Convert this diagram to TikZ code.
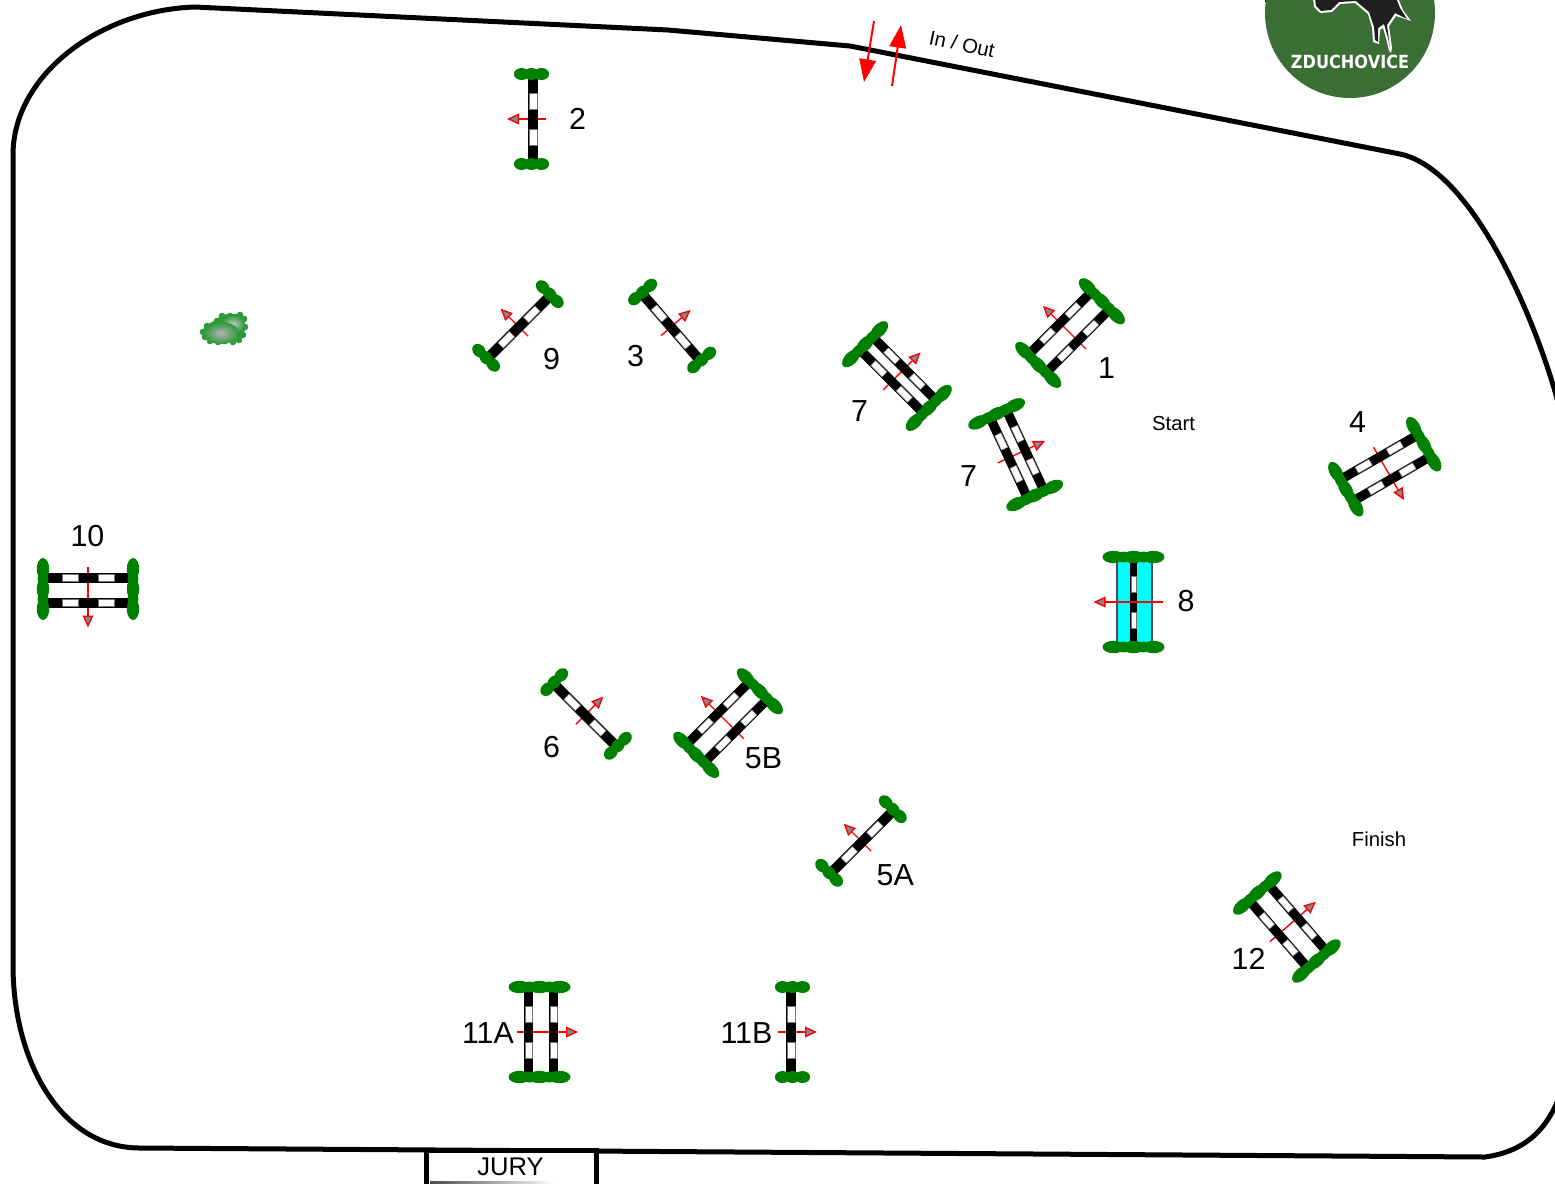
\documentclass[tikz,border=0pt]{standalone}
\usepackage{fontspec}
\usetikzlibrary{arrows.meta,shapes.geometric}
\setmainfont{Liberation Sans}
\newfontfamily\logofont{DejaVu Sans}[FakeStretch=0.89]
\definecolor{bushgreen}{HTML}{008000}
\definecolor{logogreen}{HTML}{3A6E35}
\definecolor{headgrey}{HTML}{808A96}
\definecolor{treegreen}{HTML}{2C9A38}
\definecolor{watercyan}{HTML}{00FFFF}
\tikzset{
  bush/.style={fill=bushgreen,draw=none},
  jumparrow/.style={draw=red,line width=1.05pt,-{Triangle[length=9pt,width=8pt,fill=headgrey]}},
  bigarrow/.style={draw=red,line width=1.5pt,-{Triangle[length=17pt,width=12.5pt,fill=red]}},
  numlabel/.style={font=\fontsize{22.8}{25}\selectfont,inner sep=0pt},
  smalllabel/.style={font=\fontsize{15.2}{18}\selectfont,inner sep=0pt},
  whiteseg/.style={fill=white,draw=black!55,line width=.4pt},
  course/.style={line width=3.75pt,line join=round}
}
% rail along the local y axis at x offset #1, half width #2
\newcommand\railat[2]{%
  \fill[black] ({#1-#2},-45) rectangle ({#1+#2},45);
  \filldraw[whiteseg] ({#1-#2+1.2},-26) rectangle ({#1+#2-1.2},-10);
  \filldraw[whiteseg] ({#1-#2+1.2},10) rectangle ({#1+#2-1.2},26);
}
\newcommand\shortbush[1]{%
  \foreach \u in {-10,0,10} \fill[bush] ({-1.5+\u},#1) ellipse (7.6 and 6);
}
% #1 local y, #2 local x offset
\newcommand\longbush[2]{%
  \foreach \u in {-20,0,20} \fill[bush] ({#2+\u},#1) ellipse (11 and 6.2);
  \foreach \u in {-10,10} \fill[bush] ({#2+\u},#1) ellipse (9 and 5.4);
}
% #1 name, #2 cx, #3 cy, #4 clockwise turn
\newcommand\singlefence[4]{%
  \begin{scope}[shift={(#2,#3)},rotate={-(#4)}]
    \coordinate (#1tail) at (13,0);
    \coordinate (#1tip) at (-26,0);
    \draw[jumparrow] (#1tail) -- (#1tip);
    \railat{0}{5}
    \shortbush{-45}\shortbush{45}
  \end{scope}}
% #5 arrow tail, #6 arrow tip (local x), #7 half spread of the rails
\newcommand\oxerfence[7]{%
  \begin{scope}[shift={(#2,#3)},rotate={-(#4)}]
    \coordinate (#1tail) at (#5,0);
    \coordinate (#1tip) at (#6,0);
    \draw[jumparrow] (#1tail) -- (#1tip);
    \railat{-#7}{4.7}
    \railat{#7}{4.7}
    \longbush{-45}{1.5}\longbush{45}{1.5}
  \end{scope}}
\begin{document}
\begin{tikzpicture}[x=0.75pt,y=-0.75pt]
\path[use as bounding box,clip] (0,0) rectangle (1555,1183);
\fill[white] (0,0) rectangle (1555,1183);
% logo
\fill[logogreen] (1350,13) circle (85);
\draw[black,line width=1.2pt] (1265.5,2) -- (1265.5,-5);
\fill[white] (1313,-2) -- (1314,7) -- (1320,13) -- (1332,12) -- (1340,4) -- (1355,3) -- (1368,14) -- (1372,28) -- (1373,42) -- (1379,44) -- (1380,30) -- (1383,28) -- (1386,38) -- (1389,51) -- (1391,53) -- (1392,48) -- (1389,26) -- (1396,16) -- (1411,21) -- (1403,10) -- (1398,-2) -- cycle;
\fill[black!88] (1315,-2) -- (1316,6) -- (1321,11) -- (1331,10) -- (1339,2) -- (1356,1) -- (1369,12) -- (1374,27) -- (1375,40) -- (1378,42) -- (1378,28) -- (1384,24) -- (1388,38) -- (1390,48) -- (1387,25) -- (1395,13) -- (1407,19) -- (1400,8) -- (1396,-2) -- cycle;
\node[inner sep=0pt,text=white,font={\logofont\bfseries\fontsize{13.6}{15}\selectfont}] (logotext) at (1350,61.5) {ZDUCHOVICE};
% course boundary
\draw[course] (13,155) .. controls (13,75) and (100,10) .. (195,7) -- (668,30) -- (850,46) -- (1400,154)
  .. controls (1475,170) and (1540,330) .. (1560,410) -- (1560,1095)
  .. controls (1545,1135) and (1520,1152) .. (1485,1157) -- (140,1148)
  .. controls (60,1148) and (13,1060) .. (13,965) -- cycle;
% jury
\draw[line width=3.75pt,fill=white] (426.5,1150.5) -- (596,1150.5) -- (596,1190) -- (426.5,1190) -- cycle;
\shade[left color=black!70,right color=white] (430,1181.8) rectangle (555,1183);
\node[inner sep=0pt,font=\fontsize{19.2}{22}\selectfont] (jury) at (510.5,1166.5) {JURY};
% in / out
\coordinate (outa) at (874,21);
\coordinate (outb) at (864,82);
\coordinate (ina) at (892,86);
\coordinate (inb) at (901,25);
\draw[bigarrow] (outa) -- (outb);
\draw[bigarrow] (ina) -- (inb);
\node[smalllabel,rotate=-12] (inout) at (962,44) {In / Out};
% tree
\begin{scope}
  \foreach \p in {(203,332),(207,326),(217,321),(222,316),(230,316),(240,315),(244,319),(245,327),(243,335),(239,340),(233,342),(225,341),(218,342),(210,341),(205,337)}
    \fill[treegreen] \p circle (3.3);
  \filldraw[treegreen,line width=2pt,line join=round] (203,332) -- (207,326) -- (217,321) -- (222,316) -- (240,315) -- (245,327) -- (239,340) -- (225,341) -- (210,341) -- cycle;
  \shade[inner color=black!22,outer color=treegreen,draw=none] (233,324) ellipse (12 and 9);
  \shade[inner color=black!30,outer color=treegreen,draw=none] (221,333) ellipse (18 and 11);
\end{scope}
% water
\fill[watercyan] (1117,560) rectangle (1152,645);
\draw[black!70,line width=.9pt] (1117,560) -- (1117,645) (1152,560) -- (1152,645);
% fences
\singlefence{f2}{533}{119}{0}
\singlefence{f9}{519}{327}{45}
\singlefence{f3}{671}{327}{139}
\singlefence{f6}{585}{715}{135}
\singlefence{ffa}{862}{842}{45}
\singlefence{fib}{791}{1032}{180}
\oxerfence{f1}{1069}{332}{45}{24}{-37}{12.5}
\oxerfence{fsa}{898}{375}{135}{21}{-32}{9}
\oxerfence{fsb}{1017}{454}{155}{21}{-31}{9}
\oxerfence{f4}{1385.5}{468}{-120}{24}{-37}{12.5}
\oxerfence{f10}{88}{590.5}{-90}{24}{-37}{12.5}
\oxerfence{ffb}{727}{722}{45}{24}{-37}{12.5}
\oxerfence{f12}{1288}{926}{139}{24}{-37}{12.5}
\oxerfence{fia}{541}{1032}{180}{24}{-37}{12.5}
% water fence
\begin{scope}[shift={(1133.5,602)}]
  \railat{0}{3.8}
  \longbush{-45}{0}\longbush{45}{0}
  \coordinate (f8tail) at (29,0);
  \coordinate (f8tip) at (-40,0);
  \draw[jumparrow] (f8tail) -- (f8tip);
\end{scope}
% labels
\node[numlabel] (l2) at (577.5,118.7) {2};
\node[numlabel] (l9) at (551.5,358.7) {9};
\node[numlabel] (l3) at (635.5,355.7) {3};
\node[numlabel] (l1) at (1106.5,367.7) {1};
\node[numlabel] (l7a) at (859.5,410.7) {7};
\node[numlabel] (l7b) at (968.5,475.7) {7};
\node[numlabel] (l4) at (1357.5,421.7) {4};
\node[numlabel] (l8) at (1186,600.7) {8};
\node[numlabel] (l10) at (87.5,535.7) {10};
\node[numlabel] (l6) at (551.5,746.7) {6};
\node[numlabel] (l5b) at (763.5,758) {5B};
\node[numlabel] (l5a) at (895.3,875) {5A};
\node[numlabel] (l12) at (1248.5,958.7) {12};
\node[numlabel] (l11a) at (488,1032.7) {11A};
\node[numlabel] (l11b) at (746.5,1032.7) {11B};
\node[smalllabel] (start) at (1173.5,424) {Start};
\node[smalllabel] (finish) at (1379,839) {Finish};
\end{tikzpicture}
\end{document}
